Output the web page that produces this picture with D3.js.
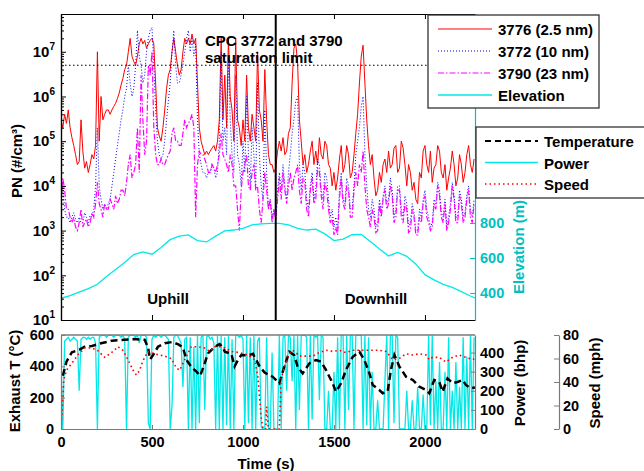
<!DOCTYPE html>
<html>
<head>
<meta charset="utf-8">
<script src="https://cdn.jsdelivr.net/npm/d3@7"></script>
<style>
  body { margin: 0; background: #fff; }
  svg { font-family: "Liberation Sans", Arial, sans-serif; font-weight: bold; }
</style>
</head>
<body>
<svg id="chart" width="644" height="471"></svg>
<script>
// ---------- sample time (s), every 10 s: used by PN and power ----------
const time10 = [
  0, 10, 20, 30, 40, 50, 60, 70, 80, 90,
  100, 110, 120, 130, 140, 150, 160, 170, 180, 190,
  200, 210, 220, 230, 240, 250, 260, 270, 280, 290,
  300, 310, 320, 330, 340, 350, 360, 370, 380, 390,
  400, 410, 420, 430, 440, 450, 460, 470, 480, 490,
  500, 510, 520, 530, 540, 550, 560, 570, 580, 590,
  600, 610, 620, 630, 640, 650, 660, 670, 680, 690,
  700, 710, 720, 730, 740, 750, 760, 770, 780, 790,
  800, 810, 820, 830, 840, 850, 860, 870, 880, 890,
  900, 910, 920, 930, 940, 950, 960, 970, 980, 990,
  1000, 1010, 1020, 1030, 1040, 1050, 1060, 1070, 1080, 1090,
  1100, 1110, 1120, 1130, 1140, 1150, 1160, 1170, 1180, 1190,
  1200, 1210, 1220, 1230, 1240, 1250, 1260, 1270, 1280, 1290,
  1300, 1310, 1320, 1330, 1340, 1350, 1360, 1370, 1380, 1390,
  1400, 1410, 1420, 1430, 1440, 1450, 1460, 1470, 1480, 1490,
  1500, 1510, 1520, 1530, 1540, 1550, 1560, 1570, 1580, 1590,
  1600, 1610, 1620, 1630, 1640, 1650, 1660, 1670, 1680, 1690,
  1700, 1710, 1720, 1730, 1740, 1750, 1760, 1770, 1780, 1790,
  1800, 1810, 1820, 1830, 1840, 1850, 1860, 1870, 1880, 1890,
  1900, 1910, 1920, 1930, 1940, 1950, 1960, 1970, 1980, 1990,
  2000, 2010, 2020, 2030, 2040, 2050, 2060, 2070, 2080, 2090,
  2100, 2110, 2120, 2130, 2140, 2150, 2160, 2170, 2180, 2190,
  2200, 2210, 2220, 2230, 2240, 2250, 2260, 2270];

// ---------- particle number (#/cm3) ----------
const cpc3776 = [
  3e5, 2e5, 4e5, 2.5e5, 5e5, 2e5, 1.2e5, 8e4, 5e4, 3e4,
  3.5e4, 3e5, 6e4, 2.5e4, 3.5e4, 2e4, 3e4, 5e4, 4e4, 8e4,
  1e7, 1e5, 1e6, 3e5, 4e5, 5e5, 5e5, 4e5, 5e5, 6e5,
  7e5, 9e5, 1.2e6, 1.8e6, 2.5e6, 4e6, 5e6, 1e7, 2e7, 8e6,
  6e6, 5e6, 8e6, 1.5e7, 2e7, 1.5e7, 1.8e7, 1.2e7, 1.5e7, 1.8e7,
  2e7, 1.5e7, 2e6, 2e5, 1.3e5, 1e5, 2e5, 5e5, 1.5e6, 3e6,
  4e6, 1e7, 2e7, 1e7, 5e6, 3e6, 4e6, 1e7, 2e7, 1.5e7,
  2e7, 1.5e7, 2.5e7, 1.5e7, 2e7, 2e6, 2e5, 1e5, 7e4, 5e4,
  6e4, 5e4, 6e4, 7e4, 8e4, 6e4, 1e5, 3e5, 2e7, 3e5,
  3e6, 2e5, 2e7, 1e6, 5e5, 1e5, 2e7, 3e5, 2e5, 8e4,
  3e5, 1e5, 3e6, 2e5, 1e5, 4e5, 2e5, 1e5, 1e7, 5e5,
  3e5, 1e5, 4e6, 3e5, 5e4, 3e4, 3e4, 2e4, 2.5e4, 6e4,
  1e5, 6e4, 1.2e5, 5e4, 6e4, 1.5e5, 2e5, 2e6, 1.2e7, 1.5e7,
  6e6, 3e5, 1e5, 3e4, 5e4, 2e4, 3e4, 6e4, 1e5, 3e4,
  6e4, 3e4, 1.2e5, 5e4, 4e4, 1e5, 8e4, 3e4, 2.5e4, 1e4,
  2e4, 8e3, 1.5e4, 4e4, 8e4, 2e4, 3e4, 8e4, 5e4, 1.5e4,
  2e4, 5e4, 1.5e5, 4e5, 2e6, 8e6, 1.4e7, 2e6, 3e5, 8e4,
  3e4, 5e4, 1.5e4, 6e3, 8e3, 2e4, 1.2e4, 3e4, 4e4, 2e4,
  6e4, 2.5e4, 3e4, 7e4, 8e4, 2e4, 2.5e4, 1e5, 7e4, 3e4,
  1e4, 3e4, 2e4, 8e3, 1.2e4, 5e3, 4e3, 2e4, 1.5e4, 6e4,
  8e4, 3e4, 2e4, 6e4, 1.2e4, 2.5e4, 3e4, 8e4, 6e4, 2e4,
  1.5e4, 3e4, 8e3, 1.5e4, 2.5e4, 6e4, 3e4, 1e4, 1.5e4, 5e4,
  3e4, 1.2e4, 2e4, 5e4, 8e4, 3e4, 2e4, 4e4];

const cpc3772 = [
  5e3, 1e4, 3e3, 2e3, 2e3, 1.5e3, 2e3, 2.5e3, 1.8e3, 1.5e3,
  2e3, 1.5e3, 1.5e3, 2.5e3, 2e3, 1.5e3, 2.2e3, 2e3, 3e3, 1e4,
  2e5, 1e4, 5e3, 3e3, 4e3, 3e3, 4e3, 5e3, 1e4, 2e4,
  4e4, 8e4, 1.5e5, 3e5, 5e5, 1e6, 1.5e6, 5e6, 2e6, 1e6,
  1.5e6, 5e6, 3e7, 8e6, 5e6, 2e6, 3e6, 1e7, 2e7, 3e7,
  3.5e7, 5e6, 5e5, 1e5, 5e4, 4e4, 5e4, 1e5, 3e5, 8e5,
  2e6, 1e7, 3e7, 5e6, 2e6, 2e6, 3e6, 5e6, 1e7, 2e7,
  3e7, 1e7, 2e7, 8e6, 1.5e7, 3e5, 5e4, 3e4, 2e4, 2e4,
  1.5e4, 2e4, 2e4, 3e4, 2.5e4, 1.5e4, 2e4, 1e5, 1e7, 1e5,
  2e5, 5e4, 8e6, 3e5, 5e4, 2e4, 3e6, 5e4, 3e4, 1e4,
  1e5, 2e4, 1e6, 5e4, 1e4, 2e5, 5e4, 1e4, 2e6, 5e4,
  1e4, 5e3, 5e5, 2e4, 3e3, 5e3, 2e3, 3e3, 2e3, 8e3,
  2e4, 8e3, 3e4, 1e4, 5e3, 2e4, 5e4, 1.5e5, 3e5, 8e5,
  1e6, 3e4, 8e3, 3e4, 2e4, 5e3, 3e3, 1e4, 2e4, 5e3,
  8e3, 4e4, 3e4, 8e3, 5e3, 2e4, 1.5e4, 5e3, 2e3, 3e3,
  1.2e3, 2e3, 1e3, 8e3, 2e4, 5e3, 4e3, 1.5e4, 1e4, 3e3,
  3e3, 1e4, 5e4, 1e5, 2e5, 6e5, 1e6, 5e4, 1e4, 3e3,
  2e3, 5e3, 3e3, 1.2e3, 1.5e3, 5e3, 2.5e3, 6e3, 1e4, 4e3,
  5e3, 1.5e4, 8e3, 2e3, 3e3, 1e4, 1e4, 3e3, 2e3, 6e3,
  4e3, 1.2e3, 1.5e3, 4e3, 2.5e3, 1e3, 1e3, 3e3, 2e3, 5e3,
  8e3, 3e3, 2e3, 1.2e3, 1.5e3, 5e3, 4e3, 1.2e4, 8e3, 2.5e3,
  2e3, 5e3, 1.2e3, 2e3, 4e3, 1.2e4, 6e3, 2e3, 2e3, 8e3,
  5e3, 2e3, 2.5e3, 6e3, 1e4, 3e3, 2e3, 5e3];

const cpc3790 = [
  5e3, 1.5e4, 8e3, 3e3, 3e3, 2e3, 1.5e3, 2e3, 1.2e3, 1e3,
  1.5e3, 3e3, 1.2e3, 1.5e3, 1.8e3, 1.2e3, 1.5e3, 2.5e3, 2e3, 4e3,
  1.2e4, 4e3, 3e3, 2e3, 4e3, 3e3, 3e3, 5e3, 4e3, 3e3,
  6e3, 4e3, 5e3, 8e3, 8e3, 6e3, 1.2e4, 3e4, 5e4, 1.5e4,
  2e4, 3e4, 2e5, 2e4, 3e6, 3e5, 5e4, 1e5, 5e6, 3e6,
  1e7, 2e5, 5e4, 3e4, 3e4, 4e4, 3e4, 3e4, 4e4, 5e4,
  6e4, 1.5e5, 2e5, 1e5, 1e5, 8e4, 8e4, 1.5e5, 3e5, 2e5,
  2.5e5, 3e5, 4e5, 2e5, 2e3, 3e4, 6e4, 5e4, 5e4, 4e4,
  3e4, 2e4, 2e4, 3e4, 2.5e4, 2e4, 3e4, 5e4, 1.5e5, 5e4,
  4e4, 3e4, 2e4, 5e4, 3e4, 1e4, 1e4, 3e3, 1e3, 8e3,
  2e4, 3e4, 5e4, 1e4, 8e3, 2e4, 3e4, 8e3, 1e4, 3e3,
  1.5e3, 5e3, 2e4, 8e3, 3e3, 5e3, 1.5e3, 3e3, 1.8e3, 5e3,
  1.5e4, 5e3, 2e4, 8e3, 4e3, 1e4, 2e4, 8e3, 1.5e4, 2e4,
  3e4, 8e3, 4e3, 1.5e4, 1.2e4, 3e3, 2e3, 8e3, 1.5e4, 4e3,
  5e3, 2.5e4, 2e4, 6e3, 3e3, 1.2e4, 8e3, 3e3, 1.5e3, 2e3,
  8e2, 1.2e3, 8e2, 5e3, 1.5e4, 4e3, 3e3, 1e4, 8e3, 2e3,
  2e3, 8e3, 2e4, 1e4, 3e4, 2e4, 6e4, 1e4, 3e3, 2e3,
  1.2e3, 3e3, 2e3, 9e2, 1e3, 4e3, 2e3, 5e3, 8e3, 3e3,
  4e3, 1e4, 6e3, 1.5e3, 2e3, 8e3, 8e3, 2e3, 1.5e3, 4e3,
  3e3, 9e2, 1e3, 3e3, 2e3, 8e2, 8e2, 2e3, 1.5e3, 4e3,
  6e3, 2e3, 1.5e3, 1e3, 1.2e3, 4e3, 3e3, 1e4, 6e3, 2e3,
  1.5e3, 4e3, 1e3, 1.5e3, 3e3, 1e4, 5e3, 1.5e3, 1.5e3, 6e3,
  4e3, 1.5e3, 2e3, 5e3, 8e3, 2e3, 1.5e3, 4e3];

// ---------- engine power (bhp) ----------
const power = [
  380, 0, 460, 470, 480, 460, 470, 480, 470, 460,
  200, 470, 480, 480, 470, 480, 470, 480, 480, 450,
  0, 480, 490, 490, 490, 480, 490, 490, 490, 480,
  490, 490, 490, 480, 490, 470, 0, 480, 490, 490,
  490, 480, 490, 450, 490, 490, 490, 480, 30, 0,
  470, 490, 480, 490, 490, 480, 490, 490, 480, 470,
  0, 120, 480, 490, 490, 470, 450, 220, 470, 480,
  0, 480, 0, 430, 0, 490, 30, 480, 490, 100,
  480, 490, 470, 480, 450, 0, 490, 0, 490, 0,
  480, 20, 490, 0, 470, 0, 490, 490, 480, 490,
  470, 0, 490, 30, 480, 0, 490, 0, 460, 480,
  10, 0, 0, 480, 0, 0, 400, 0, 0, 0,
  490, 0, 480, 490, 200, 490, 480, 250, 490, 0,
  490, 100, 490, 490, 490, 480, 0, 490, 50, 490,
  480, 490, 150, 490, 480, 0, 0, 200, 0, 0,
  300, 0, 480, 0, 490, 490, 0, 490, 100, 490,
  490, 0, 490, 490, 490, 490, 0, 490, 20, 480,
  0, 300, 0, 0, 150, 0, 0, 0, 250, 490,
  0, 490, 490, 30, 490, 480, 0, 0, 0, 0,
  200, 0, 0, 150, 0, 0, 220, 0, 0, 180,
  0, 0, 490, 20, 490, 0, 250, 0, 350, 0,
  0, 300, 0, 480, 0, 200, 0, 350, 0, 220,
  0, 480, 0, 380, 0, 490, 0, 480];

// ---------- elevation (m) ----------
const elevTime = [0, 50, 100, 150, 200, 250, 300, 350, 400, 450, 500, 550, 600, 650, 700,
  750, 800, 850, 900, 950, 1000, 1050, 1100, 1150, 1200, 1250, 1300, 1350, 1400, 1450,
  1500, 1550, 1600, 1650, 1700, 1750, 1800, 1850, 1900, 1950, 2000, 2050, 2100, 2150,
  2200, 2250, 2275];
const elevation = [370, 385, 405, 425, 450, 495, 535, 575, 620, 635, 622, 660, 705, 725, 732,
  700, 692, 725, 755, 760, 770, 790, 795, 798, 798, 790, 770, 760, 765, 738,
  700, 708, 733, 735, 695, 652, 612, 632, 610, 565, 505, 475, 450, 432,
  408, 383, 372];

// ---------- exhaust temperature (C) ----------
const tempTime = [10, 30, 60, 100, 130, 170, 220, 280, 350, 400,
  460, 478, 490, 505, 533, 570, 610, 645, 670, 690,
  716, 744, 765, 790, 808, 845, 872, 890, 900, 936,
  954, 972, 991, 1027, 1055, 1073, 1091, 1119, 1163, 1200,
  1227, 1255, 1282, 1300, 1328, 1365, 1401, 1429, 1456, 1493,
  1511, 1539, 1566, 1603, 1640, 1667, 1695, 1713, 1749, 1768,
  1795, 1813, 1832, 1859, 1896, 1933, 1969, 2006, 2024, 2051,
  2079, 2097, 2124, 2152, 2179, 2207, 2225, 2252, 2275];
const exhaustT = [340, 430, 490, 505, 525, 530, 547, 564, 570, 574,
  570, 520, 445, 470, 525, 547, 555, 540, 520, 440,
  398, 366, 340, 420, 483, 525, 542, 520, 493, 480,
  400, 440, 472, 470, 480, 440, 400, 360, 334, 292,
  398, 493, 470, 398, 355, 419, 440, 430, 377, 292,
  238, 292, 377, 461, 493, 440, 355, 281, 249, 228,
  240, 377, 472, 400, 334, 313, 270, 249, 228, 313,
  300, 238, 323, 292, 300, 313, 281, 260, 265];

// ---------- vehicle speed (mph) ----------
const speedTime = [0, 8, 15, 30, 50, 93, 130, 167, 200, 240,
  286, 313, 340, 368, 396, 414, 432, 450, 478, 510,
  542, 570, 606, 634, 652, 680, 716, 753, 789, 817,
  844, 872, 900, 936, 982, 1027, 1064, 1082, 1091, 1100,
  1110, 1125, 1130, 1140, 1200, 1209, 1227, 1255, 1273, 1291,
  1310, 1346, 1383, 1420, 1456, 1493, 1530, 1566, 1603, 1640,
  1676, 1713, 1750, 1786, 1823, 1859, 1896, 1933, 1969, 2006,
  2024, 2042, 2079, 2115, 2152, 2189, 2225, 2262, 2275];
const speed = [0, 20, 42, 50, 54, 63, 69, 69, 67, 61,
  66, 70, 67, 59, 50, 46, 50, 58, 66, 64,
  63, 62, 60, 52, 50, 59, 70, 70, 69, 66,
  70, 70, 69, 66, 65, 63, 59, 44, 27, 10,
  0, 0, 19, 0, 0, 42, 53, 64, 67, 65,
  62, 62, 62, 65, 67, 66, 67, 65, 67, 67,
  67, 67, 67, 66, 59, 60, 64, 63, 64, 63,
  59, 61, 61, 57, 61, 63, 61, 59, 60];

// ---------- ticks and labels ----------
const timeTicks = [0, 500, 1000, 1500, 2000];
const pnTicks = [1e1, 1e2, 1e3, 1e4, 1e5, 1e6, 1e7];
const elevTicks = [400, 600, 800];
const tempTicks = [0, 200, 400, 600];
const powerTicks = [0, 100, 200, 300, 400];
const speedTicks = [0, 20, 40, 60, 80];
const saturationLimit = 5e6;
const hillTop = 1180;

const pnLegend = ["3776 (2.5 nm)", "3772 (10 nm)", "3790 (23 nm)", "Elevation"];
const engineLegend = ["Temperature", "Power", "Speed"];

//------------------------------------------------------//
// scales
//------------------------------------------------------//
const svg = d3.select("#chart");
const left = 61, right = 475;
const topY0 = 14, topY1 = 320, botY0 = 335, botY1 = 429;

const x = d3.scaleLinear().domain([0, 2275]).range([left, right]);
const yPN = d3.scaleLog().domain([10, 7e7]).range([topY1, topY0]);
const yElev = d3.scaleLinear().domain([246, 1994]).range([topY1, topY0]);
const yTemp = d3.scaleLinear().domain([0, 600]).range([botY1, botY0]);
const yPow = d3.scaleLinear().domain([0, 492]).range([botY1, botY0]);
const ySpeed = d3.scaleLinear().domain([0, 80]).range([botY1, botY0]);

const CYAN = "#00e8e8", CYAN_TXT = "#00c0c0", GREY = "#7a7a7a";

const defs = svg.append("defs");
defs.append("clipPath").attr("id", "clipTop").append("rect")
  .attr("x", left).attr("y", topY0).attr("width", right - left).attr("height", topY1 - topY0);
defs.append("clipPath").attr("id", "clipBot").append("rect")
  .attr("x", left).attr("y", botY0).attr("width", right - left).attr("height", botY1 - botY0);

//------------------------------------------------------//
// top panel: particle number + elevation
//------------------------------------------------------//
const topG = svg.append("g").attr("clip-path", "url(#clipTop)");

const pnLine = d3.line().x((d, i) => x(time10[i])).y(d => yPN(d));

topG.append("path").datum(cpc3776).attr("d", pnLine)
  .attr("fill", "none").attr("stroke", "#ff0000").attr("stroke-width", 1);
topG.append("path").datum(cpc3772).attr("d", pnLine)
  .attr("fill", "none").attr("stroke", "#0000ff").attr("stroke-width", 1)
  .attr("stroke-dasharray", "1,2");
topG.append("path").datum(cpc3790).attr("d", pnLine)
  .attr("fill", "none").attr("stroke", "#ff00ff").attr("stroke-width", 1.2)
  .attr("stroke-dasharray", "6,2,1.5,2");

topG.append("path").datum(elevation)
  .attr("d", d3.line().x((d, i) => x(elevTime[i])).y(d => yElev(d)))
  .attr("fill", "none").attr("stroke", CYAN).attr("stroke-width", 1.3);

// saturation limit + hill top
svg.append("line")
  .attr("x1", left).attr("x2", right)
  .attr("y1", yPN(saturationLimit)).attr("y2", yPN(saturationLimit))
  .attr("stroke", "#000").attr("stroke-width", 1).attr("stroke-dasharray", "1.5,2.5");
svg.append("line")
  .attr("x1", x(hillTop)).attr("x2", x(hillTop)).attr("y1", topY0).attr("y2", topY1)
  .attr("stroke", "#000").attr("stroke-width", 2);

svg.append("text").attr("x", 205).attr("y", 46).attr("font-size", 15).text("CPC 3772 and 3790");
svg.append("text").attr("x", 205).attr("y", 63).attr("font-size", 15).text("saturation limit");
svg.append("text").attr("x", 168).attr("y", 304).attr("font-size", 15)
  .attr("text-anchor", "middle").text("Uphill");
svg.append("text").attr("x", 376).attr("y", 304).attr("font-size", 15)
  .attr("text-anchor", "middle").text("Downhill");

// axes of top panel
const cleanAxis = (g, color) => {
  g.attr("font-size", null).attr("font-family", null);
  g.select(".domain").attr("stroke", color).attr("stroke-width", 1.2);
  g.selectAll(".tick line").attr("stroke", color);
};

const axPN = svg.append("g").attr("transform", `translate(${left},0)`)
  .call(d3.axisLeft(yPN).tickValues(pnTicks).tickSizeInner(-5).tickSizeOuter(0)
    .tickPadding(6).tickFormat(""));
cleanAxis(axPN, "#000");
axPN.selectAll(".tick text").each(function (d) {
  const t = d3.select(this).attr("font-size", 15).attr("fill", "#000");
  t.append("tspan").text("10");
  t.append("tspan").attr("dy", -7).attr("font-size", 10).text(Math.round(Math.log10(d)));
});
const minor = yPN.ticks().filter(v => pnTicks.indexOf(v) < 0);
const axPNminor = svg.append("g").attr("transform", `translate(${left},0)`)
  .call(d3.axisLeft(yPN).tickValues(minor).tickSizeInner(-3).tickSizeOuter(0).tickFormat(""));
cleanAxis(axPNminor, "#000");

const axTopB = svg.append("g").attr("transform", `translate(0,${topY1})`)
  .call(d3.axisBottom(x).tickValues(timeTicks.slice(1)).tickSizeInner(-5).tickSizeOuter(0).tickFormat(""));
cleanAxis(axTopB, "#000");
const axTopT = svg.append("g").attr("transform", `translate(0,${topY0})`)
  .call(d3.axisTop(x).tickValues(timeTicks.slice(1)).tickSizeInner(-5).tickSizeOuter(0).tickFormat(""));
cleanAxis(axTopT, "#000");

const axElev = svg.append("g").attr("transform", `translate(${right},0)`)
  .call(d3.axisRight(yElev).tickValues(elevTicks).tickSizeInner(-5).tickSizeOuter(0).tickPadding(5));
cleanAxis(axElev, CYAN_TXT);
axElev.selectAll(".tick text").attr("font-size", 14.5).attr("fill", CYAN_TXT);

svg.append("text")
  .attr("transform", "translate(17,161) rotate(-90)")
  .attr("text-anchor", "middle").attr("dy", "0.35em").attr("font-size", 15)
  .text("PN (#/cm³)");
svg.append("text")
  .attr("transform", "translate(519,247) rotate(-90)")
  .attr("text-anchor", "middle").attr("dy", "0.35em").attr("font-size", 15)
  .attr("fill", CYAN_TXT).text("Elevation (m)");

//------------------------------------------------------//
// bottom panel: temperature, power, speed
//------------------------------------------------------//
const botG = svg.append("g").attr("clip-path", "url(#clipBot)");

botG.append("path").datum(power)
  .attr("d", d3.line().x((d, i) => x(time10[i])).y(d => yPow(d)))
  .attr("fill", "none").attr("stroke", CYAN).attr("stroke-width", 1.3);
botG.append("path").datum(exhaustT)
  .attr("d", d3.line().x((d, i) => x(tempTime[i])).y(d => yTemp(d)))
  .attr("fill", "none").attr("stroke", "#000").attr("stroke-width", 2.5)
  .attr("stroke-dasharray", "7,4");
botG.append("path").datum(speed)
  .attr("d", d3.line().x((d, i) => x(speedTime[i])).y(d => ySpeed(d)))
  .attr("fill", "none").attr("stroke", "#ff0000").attr("stroke-width", 1.6)
  .attr("stroke-dasharray", "1.6,3");

// top edge of bottom panel
svg.append("line").attr("x1", left).attr("x2", right).attr("y1", botY0).attr("y2", botY0)
  .attr("stroke", GREY).attr("stroke-width", 1.5);

const axTemp = svg.append("g").attr("transform", `translate(${left},0)`)
  .call(d3.axisLeft(yTemp).tickValues(tempTicks).tickSizeInner(-4).tickSizeOuter(0).tickPadding(7));
cleanAxis(axTemp, GREY);
axTemp.selectAll(".tick text").attr("font-size", 14.5).attr("fill", "#000");

const axTime = svg.append("g").attr("transform", `translate(0,${botY1})`)
  .call(d3.axisBottom(x).tickValues(timeTicks).tickSizeInner(-4).tickSizeOuter(0)
    .tickPadding(8).tickFormat(d3.format("d")));
cleanAxis(axTime, GREY);
axTime.selectAll(".tick text").attr("font-size", 14.5).attr("fill", "#000");

const axPow = svg.append("g").attr("transform", `translate(${right},0)`)
  .call(d3.axisRight(yPow).tickValues(powerTicks).tickSizeInner(-4).tickSizeOuter(0).tickPadding(5));
cleanAxis(axPow, GREY);
axPow.selectAll(".tick text").attr("font-size", 14.5).attr("fill", "#000");

const axSpeed = svg.append("g").attr("transform", "translate(559,0)")
  .call(d3.axisLeft(ySpeed).tickValues(speedTicks).tickSizeInner(5).tickSizeOuter(0).tickPadding(-9));
cleanAxis(axSpeed, GREY);
axSpeed.selectAll(".tick text").attr("font-size", 14.5).attr("fill", "#000")
  .attr("text-anchor", "start");

svg.append("text")
  .attr("transform", "translate(15,381) rotate(-90)")
  .attr("text-anchor", "middle").attr("dy", "0.35em").attr("font-size", 15)
  .text("Exhaust T (°C)");
svg.append("text")
  .attr("transform", "translate(520,383) rotate(-90)")
  .attr("text-anchor", "middle").attr("dy", "0.35em").attr("font-size", 15)
  .text("Power (bhp)");
svg.append("text")
  .attr("transform", "translate(595,383) rotate(-90)")
  .attr("text-anchor", "middle").attr("dy", "0.35em").attr("font-size", 15)
  .text("Speed (mph)");
svg.append("text").attr("x", 266).attr("y", 469).attr("text-anchor", "middle")
  .attr("font-size", 15).text("Time (s)");

//------------------------------------------------------//
// legends
//------------------------------------------------------//
const leg1 = svg.append("g");
leg1.append("rect").attr("x", 428).attr("y", 15).attr("width", 171).attr("height", 93)
  .attr("fill", "#fff").attr("stroke", "#333").attr("stroke-width", 1.3);
const leg1Style = [
  { c: "#ff0000", w: 1, dash: null },
  { c: "#0000ff", w: 1, dash: "1,2" },
  { c: "#ff00ff", w: 1.2, dash: "6,2,1.5,2" },
  { c: CYAN, w: 1.3, dash: null }];
pnLegend.forEach((name, i) => {
  const cy = 30 + i * 22;
  leg1.append("line").attr("x1", 438).attr("x2", 492).attr("y1", cy - 1).attr("y2", cy - 1)
    .attr("stroke", leg1Style[i].c).attr("stroke-width", leg1Style[i].w)
    .attr("stroke-dasharray", leg1Style[i].dash);
  leg1.append("text").attr("x", 498).attr("y", cy).attr("dy", "0.36em")
    .attr("font-size", 15).text(name);
});

const leg2 = svg.append("g");
leg2.append("rect").attr("x", 476).attr("y", 127).attr("width", 200).attr("height", 71)
  .attr("fill", "#fff").attr("stroke", "#333").attr("stroke-width", 1.3);
const leg2Style = [
  { c: "#000", w: 2, dash: "6,4" },
  { c: CYAN, w: 1.3, dash: null },
  { c: "#ff0000", w: 1.5, dash: "1.5,3" }];
engineLegend.forEach((name, i) => {
  const cy = 142 + i * 21.5;
  leg2.append("line").attr("x1", 485).attr("x2", 538).attr("y1", cy - 1).attr("y2", cy - 1)
    .attr("stroke", leg2Style[i].c).attr("stroke-width", leg2Style[i].w)
    .attr("stroke-dasharray", leg2Style[i].dash);
  leg2.append("text").attr("x", 544).attr("y", cy).attr("dy", "0.36em")
    .attr("font-size", 15).text(name);
});
</script>
</body>
</html>
